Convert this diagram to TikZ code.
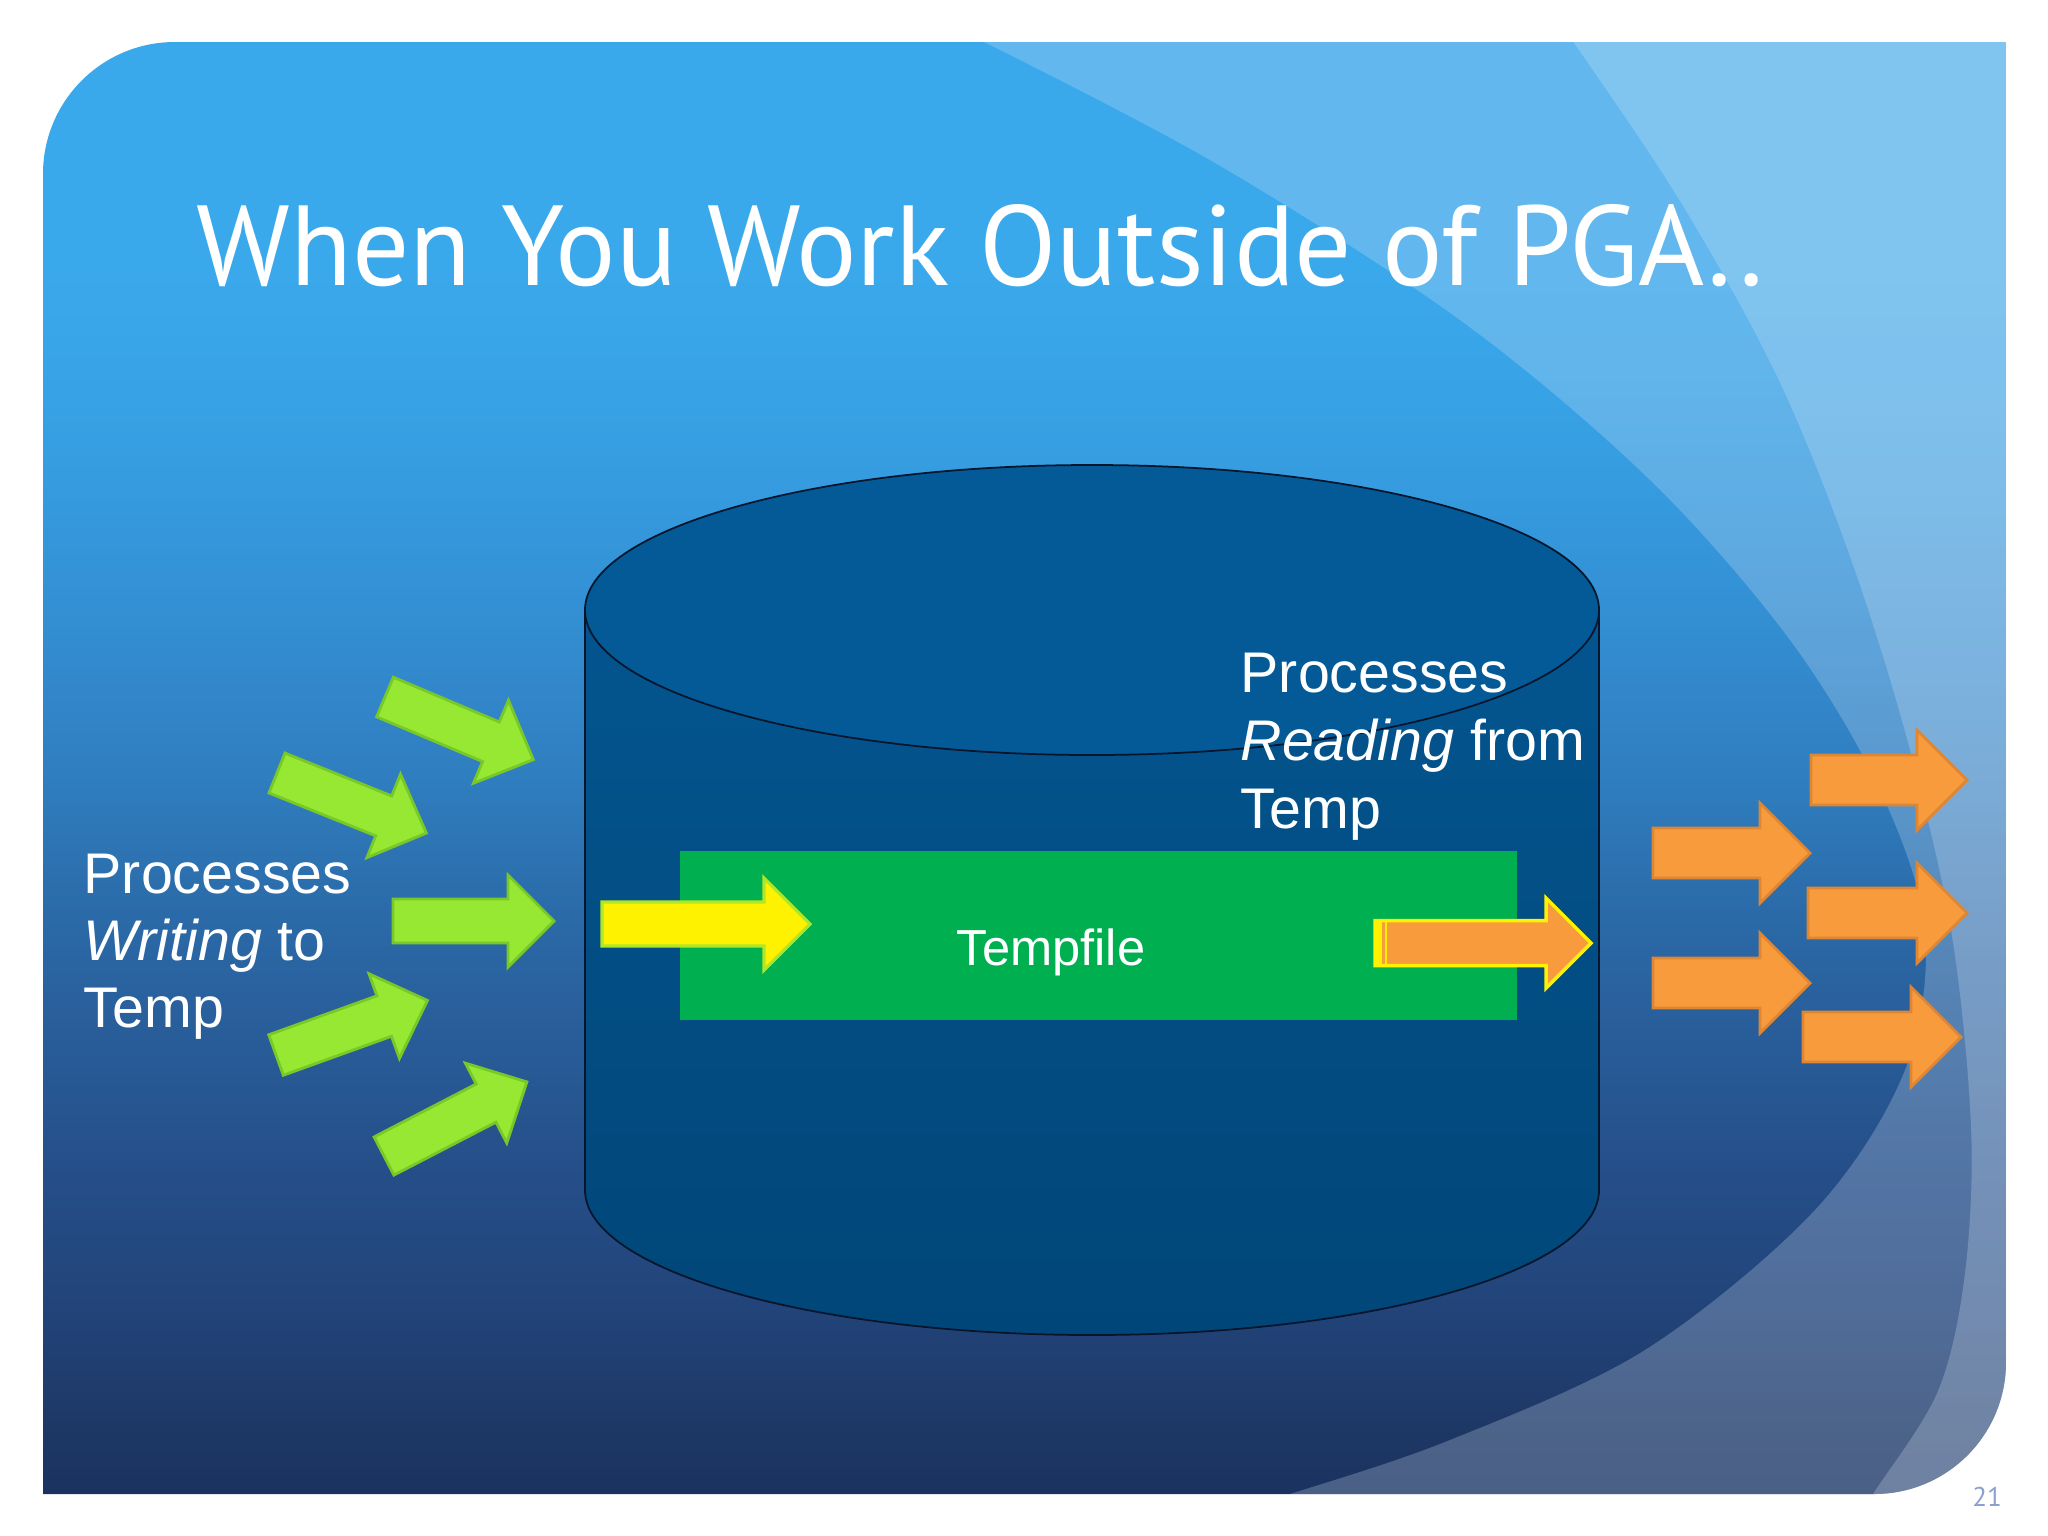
\documentclass[tikz,border=0pt]{standalone}
\usepackage{fontspec}
\setmainfont{Liberation Sans}
\newfontfamily\titlefont{PT Sans}
\usetikzlibrary{calc}
\definecolor{bgA}{RGB}{27,50,96}
\definecolor{bgB}{RGB}{29,55,100}
\definecolor{bgC}{RGB}{34,68,122}
\definecolor{bgD}{RGB}{37,78,136}
\definecolor{bgE}{RGB}{40,92,152}
\definecolor{bgF}{RGB}{43,106,168}
\definecolor{bgG}{RGB}{47,125,190}
\definecolor{bgH}{RGB}{51,139,207}
\definecolor{bgI}{RGB}{53,152,220}
\definecolor{bgJ}{RGB}{55,163,230}
\definecolor{bgK}{RGB}{58,169,236}
\definecolor{bandcol}{RGB}{220,232,247}
\definecolor{cyltop}{RGB}{4,90,150}
\definecolor{cylhi}{RGB}{4,88,148}
\definecolor{cyllo}{RGB}{1,70,120}
\definecolor{cylline}{RGB}{8,22,45}
\definecolor{filegreen}{RGB}{0,176,80}
\definecolor{arrgreen}{RGB}{151,232,50}
\definecolor{arrgreenedge}{RGB}{120,200,40}
\definecolor{arrorange}{RGB}{248,155,60}
\definecolor{arrorangeedge}{RGB}{222,134,50}
\definecolor{yellowedge}{RGB}{175,230,40}
\definecolor{pagenum}{RGB}{140,160,208}
\pgfdeclareverticalshading{slidebg}{100bp}{color(0bp)=(bgA); color(25bp)=(bgA); color(27bp)=(bgB); color(31.5bp)=(bgC); color(36bp)=(bgD); color(40.5bp)=(bgE); color(45bp)=(bgF); color(49.4bp)=(bgG); color(54bp)=(bgH); color(58.5bp)=(bgI); color(63bp)=(bgJ); color(67.5bp)=(bgK); color(100bp)=(bgK)}
\tikzset{
  greenarr/.style={fill=arrgreen, draw=arrgreenedge, line width=0.8pt, line join=miter},
  orangearr/.style={fill=arrorange, draw=arrorangeedge, line width=0.8pt, line join=miter},
  yellowarr/.style={fill=yellow, draw=yellowedge, line width=0.9pt, line join=miter},
  tfarr/.style={fill=arrorange, draw=yellow, line width=1pt, line join=miter},
  lbl/.style={text=white, font=\fontsize{16.3}{19}\selectfont, inner sep=0pt, anchor=base west},
  cylout/.style={draw=cylline, line width=0.5pt},
}
% #1 style, #2 x, #3 y (tail centre), #4 angle, #5 length, #6 shaft width, #7 head width, #8 head length
\newcommand\blockarr[8]{%
  \begin{scope}[shift={(#2,#3)},rotate=#4]
    \path[#1] (0,{-#6/2}) -- ({#5-#8},{-#6/2}) -- ({#5-#8},{-#7/2}) -- (#5,0) -- ({#5-#8},{#7/2}) -- ({#5-#8},{#6/2}) -- (0,{#6/2}) -- cycle;
  \end{scope}}
\begin{document}
\begin{tikzpicture}[x=0.01cm,y=-0.01cm]
\useasboundingbox (0,0) rectangle (2048,1536);
\fill[white] (0,0) rectangle (2048,1536);
% slide background
\shade[shading=slidebg] (43,1494) -- (43,174) .. controls (43,101) and (102,42) .. (175,42) -- (2006,42) -- (2006,1362) .. controls (2006,1435) and (1947,1494) .. (1874,1494) -- cycle;
\begin{scope}
  \clip (43,1494) -- (43,174) .. controls (43,101) and (102,42) .. (175,42) -- (2006,42) -- (2006,1362) .. controls (2006,1435) and (1947,1494) .. (1874,1494) -- cycle;
  \fill[bandcol, fill opacity=0.25] plot[smooth, tension=0.55] coordinates {(960,30) (1210,160) (1460,320) (1650,480) (1790,640) (1880,790) (1925,930) (1905,1070) (1815,1210) (1645,1350) (1450,1440) (1290,1494) (1200,1520)} -- (2100,1600) -- (2100,0) -- cycle;
  \fill[bandcol, fill opacity=0.25] plot[smooth, tension=0.55] coordinates {(1565,30) (1677,196) (1775,372) (1847,548) (1906,735) (1951,930) (1971,1126) (1965,1273) (1938,1391) (1873,1494) (1850,1530)} -- (2100,1600) -- (2100,0) -- cycle;
\end{scope}
% title
\node[anchor=base west, inner sep=0pt, text=white] (title) at (196,285) {\resizebox{15.66cm}{0.81cm}{\titlefont\fontsize{30}{36}\selectfont When You Work Outside of PGA..}};
% cylinder
\path[top color=cylhi, bottom color=cyllo] (585,610) -- (585,1190) arc[start angle=180, end angle=0, x radius=507, y radius=145] -- (1599,610) arc[start angle=0, end angle=-180, x radius=507, y radius=145] -- cycle;
\draw[cylout] (585,610) -- (585,1190) arc[start angle=180, end angle=0, x radius=507, y radius=145] -- (1599,610);
\path[fill=cyltop, cylout] (1092,610) ellipse[x radius=507, y radius=145];
% tempfile
\node[fill=filegreen, minimum width=8.37cm, minimum height=1.69cm, inner sep=0pt, anchor=north west] (tempfile) at (679,850) {};
\node[text=white, font=\fontsize{14.4}{17}\selectfont, inner sep=0pt, anchor=base] (tflabel) at (1051,965) {Tempfile};
% yellow arrow into tempfile
\blockarr{yellowarr}{602}{924}{0}{208}{44}{92}{46}
% orange arrow out of tempfile
\blockarr{tfarr}{1375}{943}{0}{216}{45}{90}{45}
\fill[yellow] (1375,921) rectangle (1382,965);
\draw[yellow, line width=0.8pt] (1386,921) -- (1386,965);
% green arrows (writers)
\blockarr{greenarr}{385}{697}{-22.9}{161}{43}{90}{46}
\blockarr{greenarr}{277}{773}{-21.9}{161}{43}{90}{46}
\blockarr{greenarr}{393}{921}{0}{161}{44}{92}{46}
\blockarr{greenarr}{276}{1055}{19.8}{161}{43}{90}{46}
\blockarr{greenarr}{384}{1156}{27.4}{161}{43}{90}{46}
% orange arrows (readers)
\blockarr{orangearr}{1811}{780}{0}{156}{50}{100}{50}
\blockarr{orangearr}{1653}{853}{0}{157}{50}{100}{50}
\blockarr{orangearr}{1808}{913}{0}{159}{50}{100}{50}
\blockarr{orangearr}{1653}{983}{0}{157}{50}{100}{50}
\blockarr{orangearr}{1803}{1037}{0}{158}{50}{100}{50}
% labels
\node[lbl] (lw1) at (83,893) {Processes};
\node[lbl] (lw2) at (83,960) {\textit{Writing} to};
\node[lbl] (lw3) at (83,1027) {Temp};
\node[lbl] (rr1) at (1240,692) {Processes};
\node[lbl] (rr2) at (1240,760) {\textit{Reading} from};
\node[lbl] (rr3) at (1240,828) {Temp};
% page number
\node[anchor=base, inner sep=0pt, text=pagenum, font=\titlefont\fontsize{7.7}{9}\selectfont] (pnum) at (1987,1506) {21};
\end{tikzpicture}
\end{document}
